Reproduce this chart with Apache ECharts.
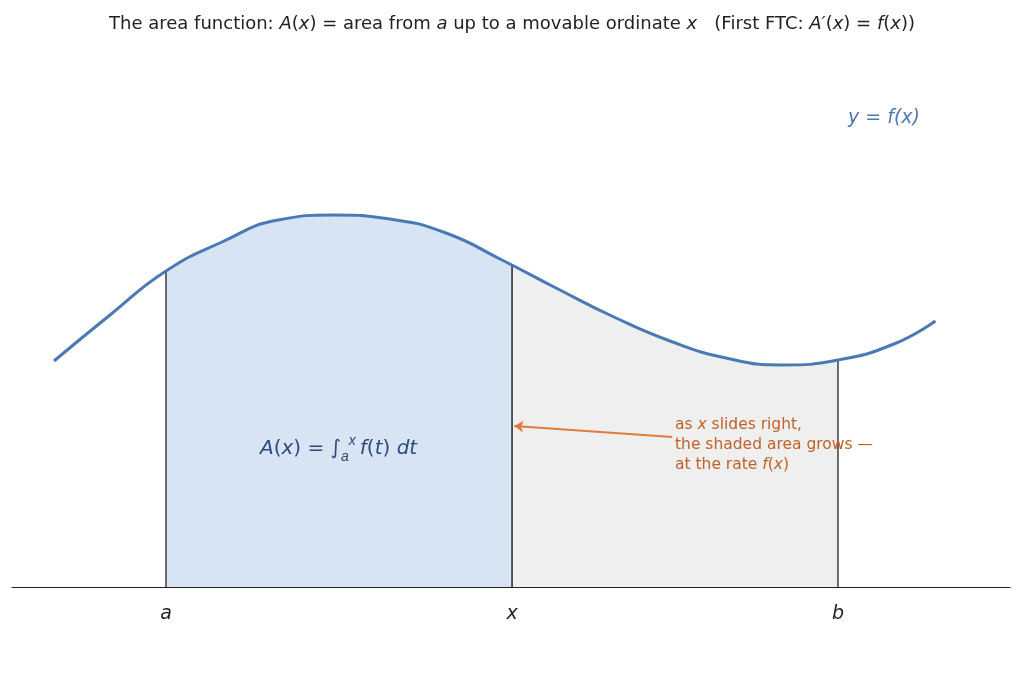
<!DOCTYPE html><html><head><meta charset="utf-8">
<script src="https://cdn.jsdelivr.net/npm/echarts@6/dist/echarts.min.js"></script>
<style>html,body{margin:0;background:#fff}#c{width:1024px;height:683px}</style></head><body><div id="c"></div>
<script>
const curveX = [0,0.5,1,1.5,2,2.5,3,3.5,4,4.09,4.5,5,5.5,6,6.5,7,7.5,7.87];
const curveY = [2.26,2.72,3.16,3.45,3.67,3.72,3.68,3.54,3.27,3.22,2.98,2.70,2.46,2.29,2.22,2.27,2.43,2.66];
const aPos = 1, xPos = 4.09, bPos = 7;
const tickLabels = {1:'a', 4.09:'x', 7:'b'};
const curve = curveX.map((x,i)=>[x,curveY[i]]);
const lineData = curve.filter(p=>p[0]!==xPos);
const blue = curve.filter(p=>p[0]>=aPos && p[0]<=xPos);
const grey = curve.filter(p=>p[0]>=xPos && p[0]<=bPos);
const fAt = x => curve.find(p=>p[0]===x)[1];
const F = 'DejaVu Sans';
const chart = echarts.init(document.getElementById('c'));
chart.setOption({
  animation:false,
  textStyle:{fontFamily:F},
  title:{left:'center',top:10,text:'The area function: {i|A}({i|x}) = area from {i|a} up to a movable ordinate {i|x}   (First FTC: {i|A′}({i|x}) = {i|f}({i|x}))',
    textStyle:{fontSize:18,fontWeight:'normal',color:'#222',fontFamily:F,rich:{i:{fontStyle:'italic',fontSize:18,color:'#222',fontFamily:F}}}},
  grid:{left:12,right:14,top:87,bottom:96},
  xAxis:{type:'value',min:-0.375,max:8.536,splitLine:{show:false},
    axisLine:{lineStyle:{color:'#222',width:1.2}},
    axisTick:{show:false},
    axisLabel:{customValues:[aPos,xPos,bPos],formatter:v=>tickLabels[v]||'',fontSize:19,fontStyle:'italic',color:'#222',margin:18}},
  yAxis:{type:'value',min:0,max:5,show:false},
  series:[
    {type:'line',data:blue,smooth:0.3,symbol:'none',lineStyle:{width:0},areaStyle:{color:'#d7e4f4',opacity:1},z:1},
    {type:'line',data:grey,smooth:0.3,symbol:'none',lineStyle:{width:0},areaStyle:{color:'#efefef',opacity:1},z:1},
    {type:'line',data:[[aPos,0],[aPos,fAt(aPos)]],symbol:'none',lineStyle:{color:'#222',width:1.3},z:2},
    {type:'line',data:[[xPos,0],[xPos,fAt(xPos)]],symbol:'none',lineStyle:{color:'#333',width:1.6},z:2},
    {type:'line',data:[[bPos,0],[bPos,fAt(bPos)]],symbol:'none',lineStyle:{color:'#222',width:1.3},z:2},
    {type:'line',data:lineData,smooth:0.5,symbol:'none',lineStyle:{color:'#4a7ab5',width:3},z:3,
      markLine:{silent:true,symbol:['none','arrow'],symbolSize:9,label:{show:false},
        lineStyle:{color:'#e07b39',width:2,type:'solid'},
        data:[[{coord:[5.52,1.5]},{coord:[4.11,1.61]}]]}}
  ],
  graphic:[
    {type:'text',z:100,left:260,top:434,style:{text:'{i|A}({i|x}) = ∫{s|a}{u|x}{i|f}({i|t}) {i|dt}',fill:'#2c4a7a',fontSize:20,fontFamily:F,
      rich:{i:{fontStyle:'italic',fontSize:20,fill:'#2c4a7a',fontFamily:F},s:{fontStyle:'italic',fontSize:14,verticalAlign:'bottom',padding:[16,0,0,0],fill:'#2c4a7a'},u:{fontStyle:'italic',fontSize:14,verticalAlign:'top',padding:[0,4,16,0],fill:'#2c4a7a'}}}},
    {type:'text',z:100,left:848,top:109,style:{text:'y = f(x)',fill:'#4a7ab5',fontSize:19,fontStyle:'italic',fontFamily:F}},
    {type:'text',z:100,left:675,top:415,style:{text:'as {i|x} slides right,\nthe shaded area grows —\nat the rate {i|f}({i|x})',fill:'#c0622a',fontSize:15.5,lineHeight:20,fontFamily:F,
      rich:{i:{fontStyle:'italic',fontSize:15.5,fill:'#c0622a',fontFamily:F}}}}
  ]
});
</script></body></html>
